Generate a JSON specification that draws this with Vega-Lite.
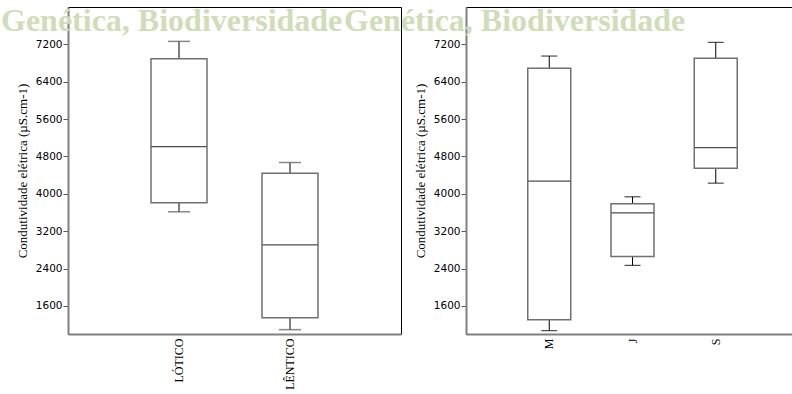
{
  "$schema": "https://vega.github.io/schema/vega-lite/v6.json",
  "background": "white",
  "padding": {"left": 0, "top": 4, "right": 0, "bottom": 0},
  "datasets": {
    "habitat": [
      {"grupo": "LÓTICO", "min": 3616, "q1": 3808, "mediana": 5013, "q3": 6894, "max": 7264},
      {"grupo": "LÊNTICO", "min": 1093, "q1": 1350, "mediana": 2910, "q3": 4443, "max": 4671}
    ],
    "periodo": [
      {"grupo": "M", "min": 1072, "q1": 1307, "mediana": 4272, "q3": 6687, "max": 6950},
      {"grupo": "J", "min": 2469, "q1": 2661, "mediana": 3595, "q3": 3787, "max": 3937},
      {"grupo": "S", "min": 4229, "q1": 4549, "mediana": 4991, "q3": 6901, "max": 7243}
    ]
  },
  "config": {
    "view": {"stroke": "#000000", "strokeWidth": 1},
    "axis": {
      "grid": false,
      "domainColor": "#808080",
      "domainWidth": 2,
      "tickColor": "#555555",
      "tickSize": 5,
      "labelColor": "#000000",
      "titleColor": "#000000"
    },
    "axisX": {
      "ticks": false,
      "labelAngle": -90,
      "labelFont": "Liberation Serif",
      "labelFontSize": 12,
      "labelPadding": 4,
      "title": null
    },
    "axisY": {
      "labelFont": "DejaVu Sans",
      "labelFontSize": 10.5,
      "labelPadding": 1,
      "format": "d",
      "titleFont": "Liberation Serif",
      "titleFontSize": 13,
      "titleFontWeight": "normal",
      "titlePadding": 6
    },
    "title": {
      "anchor": "start",
      "frame": "group",
      "font": "Liberation Serif",
      "fontSize": 32,
      "fontWeight": "bold",
      "color": "#d0ddb9",
      "baseline": "bottom",
      "offset": -31
    }
  },
  "bounds": "flush",
  "spacing": 65,
  "hconcat": [
    {
      "width": 333,
      "height": 327,
      "data": {"name": "habitat"},
      "title": {"text": "Genética, Biodiversidade", "dx": -67},
      "encoding": {
        "x": {
          "field": "grupo",
          "type": "nominal",
          "sort": null,
          "scale": {"paddingInner": 0.5, "paddingOuter": 0.75}
        }
      },
      "layer": [
        {
          "mark": {"type": "rule", "color": "#000000", "strokeWidth": 1},
          "encoding": {
            "y": {
              "field": "min",
              "type": "quantitative",
              "scale": {"domain": [1000, 8000], "nice": false, "zero": false},
              "axis": {"values": [1600, 2400, 3200, 4000, 4800, 5600, 6400, 7200], "title": "Condutividade elétrica (µS.cm-1)"}
            },
            "y2": {"field": "max"}
          }
        },
        {
          "mark": {"type": "bar", "size": 56, "fill": "white", "stroke": "#707070", "strokeWidth": 1.5},
          "encoding": {"y": {"field": "q1", "type": "quantitative"}, "y2": {"field": "q3"}}
        },
        {
          "mark": {"type": "tick", "size": 55, "thickness": 1.2, "color": "#000000"},
          "encoding": {"y": {"field": "mediana", "type": "quantitative"}}
        },
        {
          "mark": {"type": "tick", "size": 22, "thickness": 1.5, "color": "#555555"},
          "encoding": {"y": {"field": "min", "type": "quantitative"}}
        },
        {
          "mark": {"type": "tick", "size": 22, "thickness": 1.5, "color": "#555555"},
          "encoding": {"y": {"field": "max", "type": "quantitative"}}
        }
      ]
    },
    {
      "width": 333,
      "height": 327,
      "data": {"name": "periodo"},
      "title": {"text": "Genética, Biodiversidade", "dx": -122},
      "encoding": {
        "x": {
          "field": "grupo",
          "type": "nominal",
          "sort": null,
          "scale": {"paddingInner": 0.5, "paddingOuter": 0.75}
        }
      },
      "layer": [
        {
          "mark": {"type": "rule", "color": "#000000", "strokeWidth": 1},
          "encoding": {
            "y": {
              "field": "min",
              "type": "quantitative",
              "scale": {"domain": [1000, 8000], "nice": false, "zero": false},
              "axis": {"values": [1600, 2400, 3200, 4000, 4800, 5600, 6400, 7200], "title": "Condutividade elétrica (µS.cm-1)"}
            },
            "y2": {"field": "max"}
          }
        },
        {
          "mark": {"type": "bar", "size": 43, "fill": "white", "stroke": "#707070", "strokeWidth": 1.5},
          "encoding": {"y": {"field": "q1", "type": "quantitative"}, "y2": {"field": "q3"}}
        },
        {
          "mark": {"type": "tick", "size": 42, "thickness": 1.2, "color": "#000000"},
          "encoding": {"y": {"field": "mediana", "type": "quantitative"}}
        },
        {
          "mark": {"type": "tick", "size": 16, "thickness": 1.2, "color": "#000000"},
          "encoding": {"y": {"field": "min", "type": "quantitative"}}
        },
        {
          "mark": {"type": "tick", "size": 16, "thickness": 1.2, "color": "#000000"},
          "encoding": {"y": {"field": "max", "type": "quantitative"}}
        }
      ]
    }
  ]
}
